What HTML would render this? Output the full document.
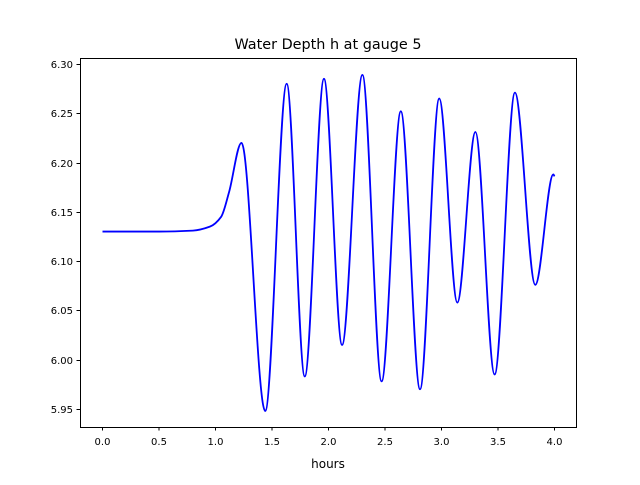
<!DOCTYPE html>
<html><head><meta charset="utf-8"><style>
body{margin:0;background:#fff}
svg text{font-family:"DejaVu Sans","Liberation Sans",sans-serif;fill:#000}
</style></head><body>
<svg id="chart" width="640" height="480" viewBox="0 0 640 480" xmlns="http://www.w3.org/2000/svg">
<rect width="640" height="480" fill="#fff"/>
<text x="328" y="49" font-size="14.4" text-anchor="middle">Water Depth h at gauge 5</text>
<g id="plot"></g>
<rect x="80.5" y="58.5" width="496" height="369" fill="none" stroke="#000" stroke-width="1"/>
<text x="328" y="468" font-size="12" text-anchor="middle">hours</text>
</svg>
<script>
const times=[0,0.5,0.8,0.95,1.05,1.12,1.23,1.44,1.63,1.79,1.96,2.12,2.30,2.47,2.64,2.81,2.98,3.14,3.30,3.47,3.65,3.83,3.99,4.0];
const depth=[6.13,6.13,6.131,6.135,6.145,6.17,6.22,5.948,6.28,5.983,6.285,6.015,6.289,5.978,6.252,5.97,6.265,6.058,6.231,5.985,6.271,6.076,6.188,6.186];
const xTicks=[0,0.5,1.0,1.5,2.0,2.5,3.0,3.5,4.0];
const xTickLabels=["0.0","0.5","1.0","1.5","2.0","2.5","3.0","3.5","4.0"];
const yTicks=[5.95,6.00,6.05,6.10,6.15,6.20,6.25,6.30];
const yTickLabels=["5.95","6.00","6.05","6.10","6.15","6.20","6.25","6.30"];

const NS="http://www.w3.org/2000/svg";
const X=v=>102.5+v*113;
const Y=v=>409-(v-5.95)*985.7;
const g=document.getElementById('plot');
function el(t,a){const e=document.createElementNS(NS,t);for(const k in a)e.setAttribute(k,a[k]);g.appendChild(e);return e;}
xTicks.forEach((t,i)=>{
  const l=el('line',{x1:X(t),x2:X(t),y1:427,y2:430.5,stroke:'#000'});
  
  
  const tx=el('text',{x:X(t),y:445,'font-size':10,'text-anchor':'middle'});
  tx.textContent=xTickLabels[i];
  
  
});
yTicks.forEach((t,i)=>{
  const y=Math.round(Y(t))+0.5;
  const l=el('line',{x1:76.5,x2:80,y1:y,y2:y,stroke:'#000'});
  
  
  const tx=el('text',{x:73,y:y+3.5,'font-size':10,'text-anchor':'end'});
  tx.textContent=yTickLabels[i];
  
  
});
// monotone cubic (Fritsch-Carlson)
const n=times.length,d=[],m=[];
for(let i=0;i<n-1;i++)d.push((depth[i+1]-depth[i])/(times[i+1]-times[i]));
for(let i=0;i<n;i++){
  if(i===0)m.push(d[0]);else if(i===n-1)m.push(d[n-2]);
  else m.push(d[i-1]*d[i]<=0?0:2/(1/d[i-1]+1/d[i]));
}
let p='M'+X(times[0])+','+Y(depth[0]);
for(let i=0;i<n-1;i++){
  const h=times[i+1]-times[i];
  p+=' C'+X(times[i]+h/3)+','+Y(depth[i]+m[i]*h/3)+' '+X(times[i+1]-h/3)+','+Y(depth[i+1]-m[i+1]*h/3)+' '+X(times[i+1])+','+Y(depth[i+1]);
}
const line=el('path',{d:p,fill:'none',stroke:'#0000ff','stroke-width':1.8});


</script>
</body></html>
